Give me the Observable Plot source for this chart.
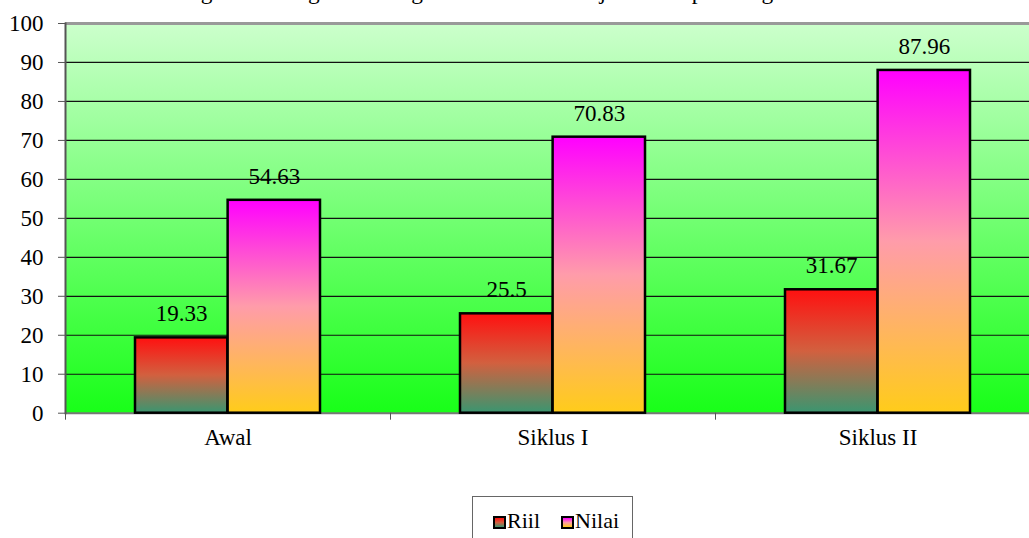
<!DOCTYPE html>
<html><head><meta charset="utf-8">
<script src="https://cdn.jsdelivr.net/npm/d3@7"></script>
<script src="https://cdn.jsdelivr.net/npm/@observablehq/plot@0.6"></script>
<style>
html,body{margin:0;padding:0;background:#fff;overflow:hidden;width:1029px;height:538px;}
body{position:relative;font-family:"Liberation Serif","Times New Roman","DejaVu Serif",serif;color:#000;}
#title{position:absolute;left:167px;top:-20px;font-size:23.4px;line-height:23.4px;white-space:nowrap;}
#chart{position:absolute;left:0;top:0;width:1040px;}
#chart svg{max-width:none !important;}
#chart svg text{font-family:"Liberation Serif","Times New Roman","DejaVu Serif",serif;}
#legend{position:absolute;left:472px;top:496px;width:161px;height:60px;border:1px solid #666;box-sizing:border-box;font-size:22px;line-height:22px;padding:13px 0 0 20px;white-space:nowrap;}
#legend .sw{display:inline-block;width:9px;height:9px;border:2px solid #000;vertical-align:-1px;margin-right:1px;}
#legend .item{display:inline-block;}
#legend .item + .item{margin-left:21px;}
</style></head>
<body>
<div id="title">Diagram Peningkatan Pengetahuan Hasil Belajar Siswa pada Tiga Siklus</div>
<div id="chart"></div>
<div id="legend"></div>
<script>
const categories = ["Awal", "Siklus I", "Siklus II"];
const series = ["Riil", "Nilai"];
const riilValues = [19.33, 25.5, 31.67];
const nilaiValues = [54.63, 70.83, 87.96];
const yTicks = [0, 10, 20, 30, 40, 50, 60, 70, 80, 90, 100];
const gridTicks = [10, 20, 30, 40, 50, 60, 70, 80, 90];

const seriesValues = {Riil: riilValues, Nilai: nilaiValues};
const rows = series.flatMap(s => categories.map((c, i) => ({cat: c, series: s, v: seriesValues[s][i]})));
const riilRows = rows.filter(d => d.series === "Riil");
const nilaiRows = rows.filter(d => d.series === "Nilai");

const W = 1040, H = 470, mL = 65, mR = 0, mT = 23, mB = 57.3;
const pInner = 0.43, pOuter = 0.215;
const step = (W - mL - mR) / (categories.length - pInner + 2 * pOuter);
const bw = step * (1 - pInner);
const half = bw / 2;
const serif = "'Liberation Serif','Times New Roman','DejaVu Serif',serif";
const fs = 23;

const chart = Plot.plot({
  width: W, height: H,
  marginLeft: mL, marginRight: mR, marginTop: mT, marginBottom: mB,
  style: {fontFamily: serif, fontSize: fs + "px", background: "transparent", overflow: "visible", maxWidth: "none"},
  x: {type: "band", domain: categories, paddingInner: pInner, paddingOuter: pOuter, label: null},
  y: {domain: [0, 100], label: null},
  marks: [
    Plot.frame({fill: "url(#gBg)", stroke: "none"}),
    Plot.ruleY(gridTicks, {stroke: "#111", strokeWidth: 1.2}),
    Plot.ruleY([100], {stroke: "#999", strokeWidth: 3}),
    Plot.ruleY([0], {stroke: "#777", strokeWidth: 2}),
    Plot.frame({anchor: "left", stroke: "#555", strokeWidth: 2}),
    Plot.axisY({ticks: yTicks, tickSize: 7, tickPadding: 15, fontSize: fs, stroke: "#555", label: null}),
    Plot.axisX({tickSize: 7, tickFormat: () => "", dx: -step / 2, stroke: "#555", label: null}),
    Plot.axisX({tickSize: 0, tickPadding: 15, fontSize: fs, label: null}),
    Plot.barY(riilRows, {x: "cat", y: "v", insetRight: half, fill: "url(#gRiil)", stroke: "#000", strokeWidth: 2.5}),
    Plot.barY(nilaiRows, {x: "cat", y: "v", insetLeft: half, fill: "url(#gNilai)", stroke: "#000", strokeWidth: 2.5}),
    Plot.text(riilRows, {x: "cat", y: "v", text: d => String(d.v), dx: -half / 2, dy: -24, fontSize: fs, fill: "#000", lineAnchor: "middle"}),
    Plot.text(nilaiRows, {x: "cat", y: "v", text: d => String(d.v), dx: half / 2, dy: -24, fontSize: fs, fill: "#000", lineAnchor: "middle"})
  ]
});
chart.style.maxWidth = "none";
chart.style.fontFamily = serif;

const defs = d3.select(chart).insert("defs", ":first-child");
function grad(id, stops) {
  const g = defs.append("linearGradient").attr("id", id).attr("x1", 0).attr("y1", 0).attr("x2", 0).attr("y2", 1);
  stops.forEach(([o, c]) => g.append("stop").attr("offset", o).attr("stop-color", c));
}
grad("gBg", [[0, "#ccffcc"], [1, "#18ff18"]]);
grad("gRiil", [[0, "#ff1010"], [0.5, "#d2603f"], [1, "#3a9670"]]);
grad("gNilai", [[0, "#ff00ff"], [0.5, "#ff9caa"], [1, "#ffcc1a"]]);
document.getElementById("chart").appendChild(chart);

const legend = document.getElementById("legend");
const legendFill = {Riil: "linear-gradient(#ff1010,#d2603f,#3a9670)", Nilai: "linear-gradient(#ff00ff,#ff9caa,#ffcc1a)"};
series.forEach(s => {
  const item = document.createElement("span");
  item.className = "item";
  const sw = document.createElement("span");
  sw.className = "sw";
  sw.style.background = legendFill[s];
  item.appendChild(sw);
  item.appendChild(document.createTextNode(s));
  legend.appendChild(item);
});
</script>
</body></html>
